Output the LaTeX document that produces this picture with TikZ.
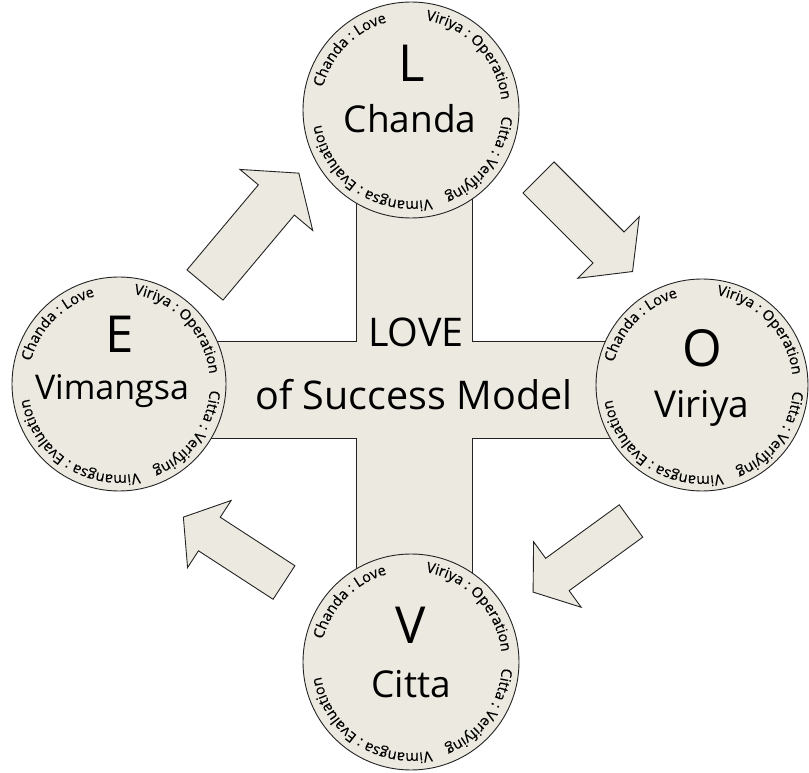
\documentclass[tikz,border=0pt]{standalone}
\usepackage{fontspec}
\setmainfont{Open Sans}
\newfontfamily\ringfont[FakeBold=0.4]{Open Sans}
\usetikzlibrary{decorations.text}
\definecolor{beige}{RGB}{236,234,224}
\definecolor{edge}{RGB}{35,35,35}
\newcommand\ringsize{\ringfont\fontsize{14.6}{15}\selectfont}
\def\ringr{91}
% #1 centre, #2 middle angle, #3 text (clockwise, letters outward)
\newcommand\arctext[3]{%
  \path[decorate,decoration={text along path,text align=center,text={|\ringsize|#3}}]
    (#1) ++({#2+60}:\ringr) arc[start angle={#2+60},end angle={#2-60},radius=\ringr];}
\newcommand\ringlabels[1]{%
  \arctext{#1}{135.5}{Chanda : Love}
  \arctext{#1}{43.5}{Viriya : Operation}
  \arctext{#1}{-36}{Citta : Verifying}
  \arctext{#1}{-124}{Vimangsa : Evaluation}}
% block arrow: tail x, tail y, angle, shaft length, half shaft width, half head width, head length
\newcommand\barrow[7]{%
  \begin{scope}[shift={(#1,#2)},rotate=#3]
    \draw[shapeline] (0,-#5) -- (#4,-#5) -- (#4,-#6) -- ({#4+#7},0) -- (#4,#6) -- (#4,#5) -- (0,#5) -- cycle;
  \end{scope}}
\begin{document}
\begin{tikzpicture}[x=1pt,y=1pt,line join=miter,
  shapeline/.style={draw=edge,line width=0.9pt,fill=beige},
  disc/.style={circle,shapeline,minimum size=#1,inner sep=0pt},
  bigletter/.style={font=\fontsize{51}{51}\selectfont,anchor=base,inner sep=0pt},
  bigword/.style={font=\fontsize{37}{37}\selectfont,anchor=base,inner sep=0pt},
  titletext/.style={font=\fontsize{39.5}{40}\selectfont,anchor=base,inner sep=0pt}]
\useasboundingbox (0,0) rectangle (809,772);
% arrows
\barrow{205}{487}{50}{111}{23.5}{47.5}{35}
\barrow{538.5}{594.5}{-45}{99}{22}{43.5}{34}
\barrow{631}{251}{216}{91}{20}{40.5}{30}
\barrow{284}{189.5}{147}{89}{20}{40}{31}
% cross
\draw[shapeline] (356,110) -- (356,334) -- (119,334) -- (119,431) -- (356,431) -- (356,662)
  -- (472,662) -- (472,431) -- (702,431) -- (702,334) -- (472,334) -- (472,110) -- cycle;
% discs
\node[disc=216] (L) at (411,662) {};
\node[disc=212] (O) at (702,387) {};
\node[disc=214] (E) at (119,388) {};
\node[disc=216] (V) at (411,110) {};
\ringlabels{L.center}
\ringlabels{O.center}
\ringlabels{E.center}
\ringlabels{V.center}
% texts
\node[bigletter] (Lt) at (412,690) {L};
\node[bigword] (Lw) at (410,639) {Chanda};
\node[bigletter] (Ot) at (702,405) {O};
\node[bigword] (Ow) at (702,354) {Viriya};
\node[bigletter] (Et) at (120,419) {E};
\node[bigword,font=\fontsize{34}{34}\selectfont] (Ew) at (112,372) {Vimangsa};
\node[bigletter] (Vt) at (411,129) {V};
\node[bigword] (Vw) at (411,75) {Citta};
\node[titletext] (love) at (416,425) {LOVE};
\node[titletext] (model) at (414,362) {of Success Model};
\end{tikzpicture}
\end{document}
